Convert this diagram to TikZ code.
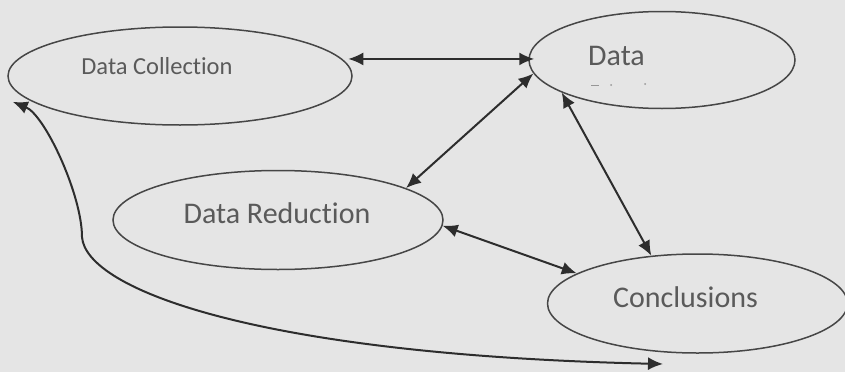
\documentclass[tikz,border=0pt]{standalone}
\usepackage{fontspec}
\setmainfont[Ligatures=NoCommon]{Carlito}
\usetikzlibrary{arrows.meta,shapes.geometric}
\definecolor{bg}{RGB}{229,229,229}
\definecolor{edgec}{RGB}{70,70,70}
\definecolor{arrowc}{RGB}{45,45,45}
\definecolor{txt}{RGB}{90,90,90}
\definecolor{faint}{RGB}{150,150,150}
\begin{document}
\begin{tikzpicture}[x=1pt,y=-1pt,
  ell/.style={draw=edgec, line width=1.5pt, ellipse, inner sep=0pt},
  lab/.style={anchor=base, inner sep=0pt, text=txt, font=\fontsize{30}{33}\selectfont},
  arr/.style={{Latex[length=15pt,width=13pt]}-{Latex[length=15pt,width=13pt]}, draw=arrowc, line width=2pt},
  ]
\fill[bg] (0,0) rectangle (845,372);
\useasboundingbox (0,0) rectangle (845,372);
\clip (0,0) rectangle (845,372);

\node[ell, minimum width=344pt, minimum height=98pt] (dc) at (180,76) {};
\node[ell, minimum width=266pt, minimum height=97pt] (data) at (662,60) {};
\node[ell, minimum width=330pt, minimum height=99pt] (dr) at (278,220) {};
\node[ell, minimum width=300pt, minimum height=99pt] (cc) at (697.5,303.5) {};

\node[lab, font=\fontsize{24.5}{27}\selectfont] (tdc) at (157,74) {Data Collection};
\node[lab] (td) at (616.5,65) {Data};
\node[lab] (tdr) at (277,223) {Data Reduction};
\node[lab] (tcc) at (685.5,307) {Conclusions};

\draw[faint, line width=1pt] (591,85) -- (599,85);
\fill[faint] (611,85) circle (1pt) (645,84) circle (1pt);

\coordinate (bend) at (82,237);
\coordinate (lend) at (663,364);

\draw[arr] ([xshift=6pt]dc.6) -- ([xshift=6pt]dc.6 -| data.west);
\draw[arr] (data.186) -- (dr.14);
\draw[arr] (data.198) -- (cc.134);
\draw[arr] (dr.358) -- (cc.166);
\draw[arr] ([xshift=-12pt,yshift=-4pt]dc.188) .. controls (45,115) and (82,195) .. (bend)
  .. controls (86,290) and (260,355) .. (lend);
\end{tikzpicture}
\end{document}
